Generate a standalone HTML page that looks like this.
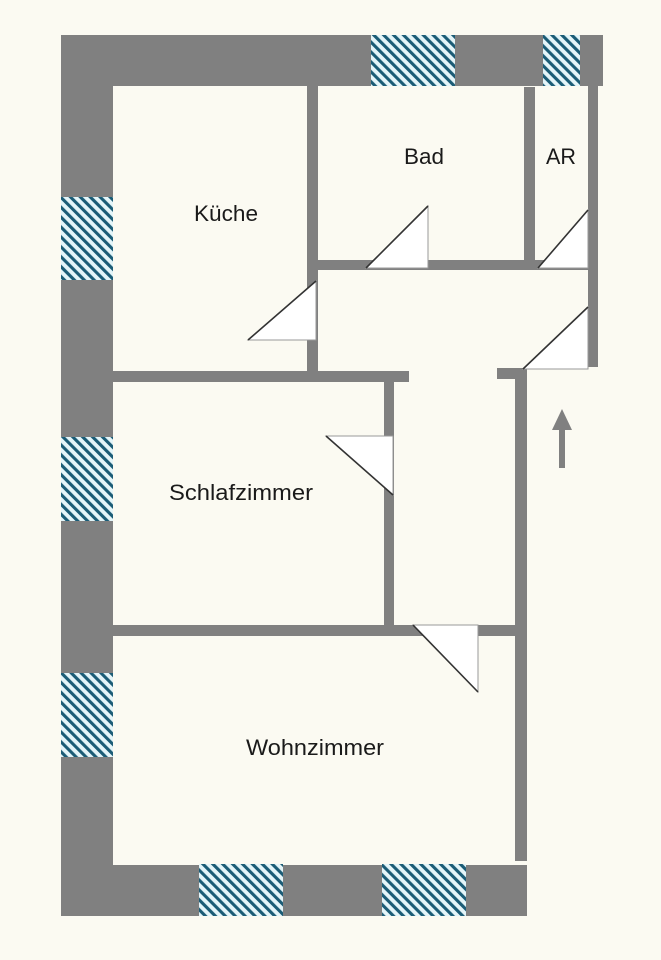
<!DOCTYPE html>
<html>
<head>
<meta charset="utf-8">
<style>
  html,body{margin:0;padding:0;background:#fbfaf2;}
  svg{display:block;}
  text{font-family:"Liberation Sans",Arial,sans-serif;font-size:22px;fill:#1a1a1a;}
</style>
</head>
<body>
<svg width="661" height="960" viewBox="0 0 661 960" xmlns="http://www.w3.org/2000/svg">
  <defs>
    <pattern id="hatch" patternUnits="userSpaceOnUse" width="7" height="7" patternTransform="rotate(-45)">
      <rect x="0" y="0" width="7" height="7" fill="#e4f5f9"/>
      <rect x="0" y="0" width="3.1" height="7" fill="#1b5c76"/>
    </pattern>
  </defs>
  <rect x="0" y="0" width="661" height="960" fill="#fbfaf2"/>

  <g fill="#808080">
    <!-- outer walls -->
    <rect x="61" y="35" width="542" height="51"/>
    <rect x="61" y="35" width="52" height="881"/>
    <rect x="61" y="865" width="466" height="51"/>
    <rect x="515" y="368" width="12" height="493"/>
    <rect x="588" y="86" width="10" height="281"/>
    <!-- interior walls -->
    <rect x="307" y="86" width="11" height="296"/>
    <rect x="524" y="87" width="11" height="183"/>
    <rect x="317" y="260" width="281" height="10"/>
    <rect x="113" y="371" width="296" height="11"/>
    <rect x="384" y="381" width="10" height="255"/>
    <rect x="113" y="625" width="414" height="11"/>
    <rect x="497" y="368" width="29" height="11"/>
    <!-- arrow -->
    <polygon points="562,409 572,430 552,430"/>
    <rect x="559" y="429" width="6" height="39"/>
  </g>

  <!-- windows -->
  <g fill="url(#hatch)">
    <rect x="371" y="35" width="84" height="51"/>
    <rect x="543" y="35" width="37" height="51"/>
    <rect x="61" y="197" width="52" height="83"/>
    <rect x="61" y="437" width="52" height="84"/>
    <rect x="61" y="673" width="52" height="84"/>
    <rect x="199" y="864" width="84" height="52"/>
    <rect x="382" y="864" width="84" height="52"/>
  </g>

  <!-- doors -->
  <g fill="#ffffff" stroke="#9a9a9a" stroke-width="1">
    <polygon points="248,340 316,340 316,281"/>
    <polygon points="366,268 428,268 428,206"/>
    <polygon points="538,268 588,268 588,210"/>
    <polygon points="523,369 588,369 588,307"/>
    <polygon points="326,436 393,436 393,495"/>
    <polygon points="413,625 478,625 478,692"/>
  </g>
  <g stroke="#333333" stroke-width="1.6" fill="none">
    <line x1="248" y1="340" x2="316" y2="281"/>
    <line x1="366" y1="268" x2="428" y2="206"/>
    <line x1="538" y1="268" x2="588" y2="210"/>
    <line x1="523" y1="369" x2="588" y2="307"/>
    <line x1="326" y1="436" x2="393" y2="495"/>
    <line x1="413" y1="625" x2="478" y2="692"/>
  </g>

  <!-- labels -->
  <text x="194" y="221" textLength="64" lengthAdjust="spacingAndGlyphs">Küche</text>
  <text x="404" y="164" textLength="40" lengthAdjust="spacingAndGlyphs">Bad</text>
  <text x="546" y="164" textLength="30" lengthAdjust="spacingAndGlyphs">AR</text>
  <text x="169" y="500" textLength="144" lengthAdjust="spacingAndGlyphs">Schlafzimmer</text>
  <text x="246" y="755" textLength="138" lengthAdjust="spacingAndGlyphs">Wohnzimmer</text>
</svg>
</body>
</html>
